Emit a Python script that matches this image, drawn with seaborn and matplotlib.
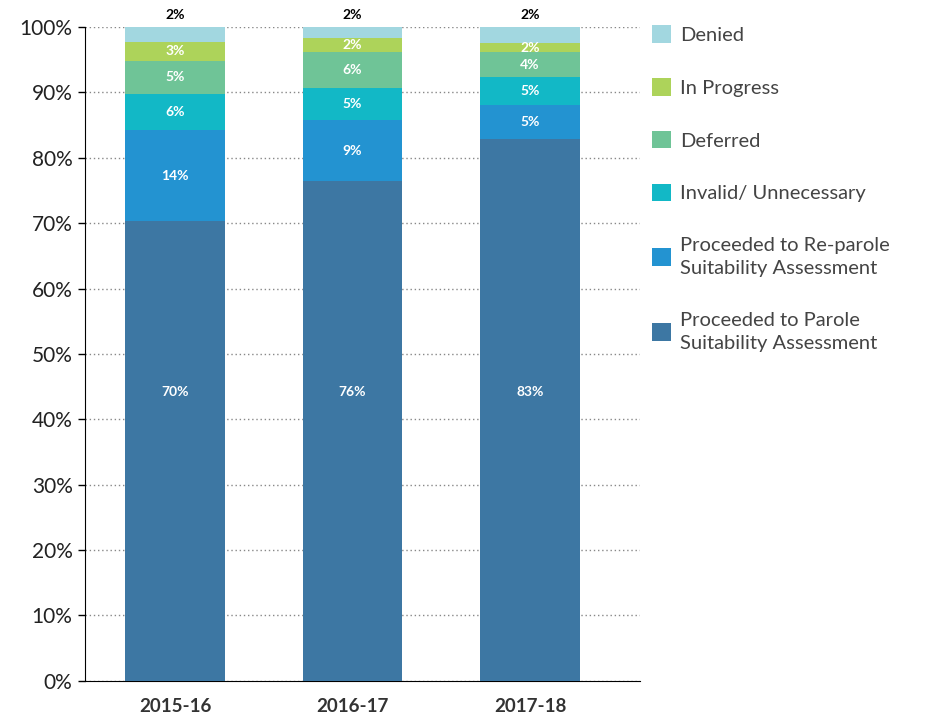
import seaborn as sns
import matplotlib.pyplot as plt
import pandas as pd
import numpy as np
from matplotlib.patches import Patch

years = ["2015-16", "2016-17", "2017-18"]
categories = ["Proceeded to Parole\nSuitability Assessment",
              "Proceeded to Re-parole\nSuitability Assessment",
              "Invalid/ Unnecessary", "Deferred", "In Progress", "Denied"]

# segment sizes in percent, bottom to top
parole = [70.3, 76.4, 82.8]
reparole = [13.9, 9.3, 5.2]
invalid = [5.6, 5.0, 4.4]
deferred = [5.0, 5.5, 3.7]
in_progress = [2.9, 2.1, 1.5]
denied = [2.3, 1.7, 2.4]

# printed labels
parole_lbl = ["70%", "76%", "83%"]
reparole_lbl = ["14%", "9%", "5%"]
invalid_lbl = ["6%", "5%", "5%"]
deferred_lbl = ["5%", "6%", "4%"]
in_progress_lbl = ["3%", "2%", "2%"]
denied_lbl = ["2%", "2%", "2%"]

colors = ["#3d77a3", "#2393d1", "#12b8c6", "#6fc497", "#add35a", "#a2d7e0"]

series = [parole, reparole, invalid, deferred, in_progress, denied]
labels = [parole_lbl, reparole_lbl, invalid_lbl, deferred_lbl, in_progress_lbl, denied_lbl]

fig = plt.figure(figsize=(9.25, 7.19), dpi=100)
ax = fig.add_axes([0.092, 0.053, 0.6, 0.9095])

font = "Lato"
plt.rcParams['font.family'] = font

bottom = np.zeros(len(years))
for k, (name, vals, col, lbl) in enumerate(zip(categories, series, colors, labels)):
    df = pd.DataFrame({"year": years, "value": vals})
    sns.barplot(data=df, x="year", y="value", color=col, width=0.56,
                bottom=bottom, ax=ax, saturation=1, zorder=3, linewidth=0)
    for i, v in enumerate(vals):
        if name == "Denied":
            ax.text(i, 101.8, lbl[i], ha="center", va="center", fontsize=10,
                    fontweight="bold", color="black", clip_on=False, family=font)
        elif k == 0:
            # big segment labels sit at the same height
            ax.text(i, 44.2, lbl[i], ha="center", va="center", fontsize=10,
                    fontweight="bold", color="white", zorder=4, family=font)
        else:
            ax.text(i, bottom[i] + v / 2, lbl[i], ha="center", va="center", fontsize=10,
                    fontweight="bold", color="white", zorder=4, family=font)
    bottom += np.array(vals)

ax.set_ylim(0, 100)
ax.set_xlim(-0.507, 2.62)
ax.set_yticks(range(0, 101, 10))
ax.set_yticklabels([f"{t}%" for t in range(0, 101, 10)], fontsize=15, color="#222222", family=font)
ax.set_xticks(range(len(years)))
ax.set_xticklabels(years, fontsize=13.5, fontweight="bold", color="#333333", family=font)
ax.tick_params(axis="x", length=0, pad=12)
ax.tick_params(axis="y", length=5, width=1, color="black", pad=4)
ax.set_xlabel("")
ax.set_ylabel("")
ax.grid(axis="y", linestyle=(0, (1, 2)), color="#888888", linewidth=1, zorder=0)
ax.set_axisbelow(True)
for s in ["top", "right"]:
    ax.spines[s].set_visible(False)
ax.spines["left"].set_color("black")
ax.spines["bottom"].set_color("black")

handles = [Patch(facecolor=c, edgecolor="none") for c in colors][::-1]
leg = fig.legend(handles, categories[::-1], loc="upper left", bbox_to_anchor=(0.685, 0.99),
                 frameon=False, labelspacing=1.7, handlelength=0.95,
                 handleheight=0.95, handletextpad=0.45, prop={"family": font, "size": 14.5})
for t in leg.get_texts():
    t.set_color("#444444")
    t.set_linespacing(1.47)

fig.savefig("out.png", dpi=100)
